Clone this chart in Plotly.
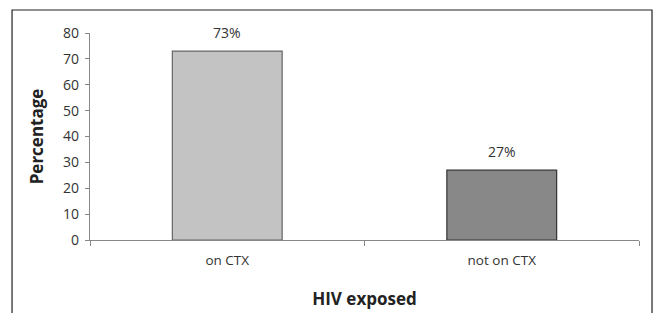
import plotly.graph_objects as go

categories = ["on CTX", "not on CTX"]
values = [73, 27]
labels = ["73%", "27%"]
bar_colors = ["#C3C3C3", "#888888"]
bar_lines = ["#666666", "#333333"]
y_ticks = [0, 10, 20, 30, 40, 50, 60, 70, 80]

FONT = "'Open Sans', sans-serif"

fig = go.Figure()
fig.add_trace(go.Bar(
    x=categories, y=values,
    marker=dict(color=bar_colors, line=dict(color=bar_lines, width=1.2)),
    width=0.4,
    showlegend=False,
    hoverinfo="skip",
))

for c, v, t in zip(categories, values, labels):
    fig.add_annotation(x=c, y=v, text=t, showarrow=False, yanchor="bottom",
                       yshift=7, font=dict(family=FONT, size=14, color="#333333"))

# outer frame
fig.add_shape(type="rect", xref="paper", yref="paper",
              x0=-0.142, x1=1.0237, y0=-0.45, y1=1.111,
              line=dict(color="#222222", width=1.2), fillcolor="rgba(0,0,0,0)",
              layer="below")

fig.update_layout(
    width=657, height=313,
    margin=dict(l=90, r=18, t=33, b=73),
    paper_bgcolor="white", plot_bgcolor="white",
    font=dict(family=FONT, size=12, color="#333333"),
    xaxis=dict(
        automargin=False,
        showline=True, linecolor="#888888", linewidth=1.2,
        ticks="outside", tickson="boundaries", ticklen=5, tickcolor="#888888",
        tickfont=dict(size=13.5, color="#333333"), ticklabelstandoff=8,
        title=dict(text="<b>HIV exposed</b>", font=dict(size=17, color="#222222"), standoff=24),
        showgrid=False, zeroline=False,
    ),
    yaxis=dict(
        automargin=False,
        range=[0, 80], tickvals=y_ticks,
        showline=True, linecolor="#888888", linewidth=1.2,
        ticks="outside", ticklen=4, tickcolor="#888888",
        tickfont=dict(size=14, color="#333333"), ticklabelstandoff=3,
        title=dict(text="<b>Percentage</b>", font=dict(size=17, color="#222222"), standoff=15),
        showgrid=False, zeroline=False,
    ),
)

post = ("document.body.style.margin='0';document.body.style.overflow='hidden';"
        "var gd=document.getElementById('{plot_id}');"
        "Plotly.relayout(gd,{width:657,height:313});")

fig.write_html("out.html", post_script=post,
               config={"responsive": False, "displayModeBar": False})
